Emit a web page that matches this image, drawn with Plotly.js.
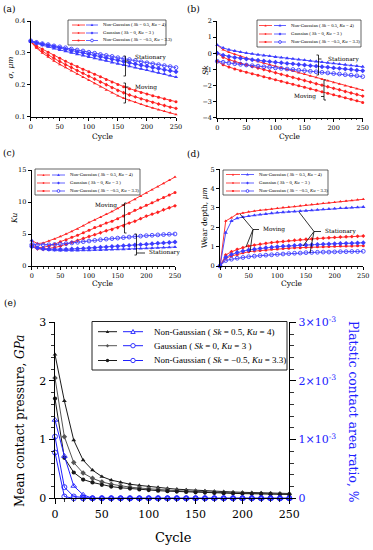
<!DOCTYPE html>
<html><head><meta charset="utf-8">
<script src="https://cdn.plot.ly/plotly-3.0.1.min.js"></script>
<style>html,body{margin:0;padding:0;background:#fff}#chart{width:373px;height:550px}</style>
</head><body><div id="chart"></div>
<script>
// ---------------- DATA ----------------
const cycles = [0,10,20,30,40,50,60,70,80,90,100,110,120,130,140,150,160,170,180,190,200,210,220,230,240,250];
const legendLabels = [
  'Non-Gaussian ( <i>Sk</i> = 0.5, <i>Ku</i> = 4)',
  'Gaussian ( <i>Sk</i> = 0, <i>Ku</i> = 3 )',
  'Non-Gaussian ( <i>Sk</i> = \u22120.5, <i>Ku</i> = 3.3)'
];
// (a) sigma, um
const aMovP = [0.335,0.315,0.300,0.287,0.275,0.264,0.254,0.244,0.234,0.224,0.214,0.204,0.194,0.184,0.175,0.166,0.158,0.151,0.145,0.139,0.133,0.127,0.122,0.117,0.112,0.107];
const aMovG = [0.335,0.318,0.305,0.293,0.283,0.273,0.263,0.254,0.245,0.236,0.227,0.218,0.209,0.200,0.191,0.182,0.175,0.168,0.162,0.156,0.150,0.145,0.140,0.135,0.130,0.126];
const aMovN = [0.335,0.322,0.312,0.302,0.292,0.283,0.274,0.265,0.257,0.249,0.241,0.233,0.225,0.217,0.209,0.201,0.194,0.188,0.182,0.176,0.171,0.166,0.161,0.156,0.151,0.147];
const aStaP = [0.335,0.329,0.324,0.319,0.314,0.309,0.305,0.300,0.296,0.292,0.287,0.283,0.279,0.275,0.270,0.266,0.262,0.258,0.254,0.250,0.246,0.242,0.238,0.234,0.229,0.224];
const aStaG = [0.337,0.331,0.327,0.323,0.319,0.315,0.311,0.307,0.303,0.300,0.296,0.292,0.288,0.284,0.280,0.277,0.273,0.269,0.265,0.261,0.258,0.254,0.251,0.247,0.244,0.241];
const aStaN = [0.338,0.333,0.329,0.326,0.322,0.319,0.316,0.312,0.309,0.306,0.302,0.299,0.295,0.292,0.289,0.285,0.282,0.279,0.276,0.272,0.269,0.266,0.263,0.260,0.257,0.254];
// (b) Sk
const bMovP = [0.5,0.22,0.06,-0.07,-0.19,-0.30,-0.41,-0.51,-0.61,-0.71,-0.81,-0.91,-1.01,-1.11,-1.21,-1.31,-1.41,-1.51,-1.61,-1.71,-1.81,-1.91,-2.01,-2.11,-2.20,-2.29];
const bMovG = [0,-0.25,-0.40,-0.52,-0.63,-0.72,-0.82,-0.92,-1.01,-1.11,-1.21,-1.31,-1.40,-1.50,-1.60,-1.69,-1.79,-1.89,-1.98,-2.08,-2.18,-2.27,-2.37,-2.47,-2.56,-2.66];
const bMovN = [-0.5,-0.72,-0.86,-0.98,-1.08,-1.18,-1.27,-1.37,-1.46,-1.55,-1.65,-1.74,-1.83,-1.93,-2.02,-2.11,-2.20,-2.30,-2.39,-2.48,-2.58,-2.67,-2.76,-2.86,-2.95,-3.05];
const bStaP = [0.5,0.33,0.22,0.14,0.07,0.01,-0.04,-0.09,-0.14,-0.18,-0.23,-0.27,-0.31,-0.35,-0.39,-0.43,-0.47,-0.51,-0.55,-0.59,-0.63,-0.67,-0.71,-0.75,-0.79,-0.84];
const bStaG = [0,-0.12,-0.20,-0.26,-0.31,-0.36,-0.40,-0.44,-0.48,-0.52,-0.56,-0.59,-0.63,-0.66,-0.70,-0.73,-0.77,-0.80,-0.84,-0.87,-0.91,-0.94,-0.98,-1.01,-1.05,-1.09];
const bStaN = [-0.5,-0.56,-0.61,-0.65,-0.69,-0.73,-0.77,-0.80,-0.84,-0.87,-0.91,-0.94,-0.98,-1.01,-1.05,-1.08,-1.12,-1.15,-1.19,-1.22,-1.26,-1.29,-1.33,-1.36,-1.40,-1.45];
// (c) Ku
const cMovP = [4.0,3.5,3.6,3.9,4.2,4.6,5.0,5.4,5.8,6.3,6.8,7.2,7.6,8.1,8.5,9.0,9.5,9.9,10.4,10.9,11.4,11.9,12.4,12.9,13.4,13.9];
const cMovG = [3.0,2.7,2.6,2.7,2.9,3.1,3.4,3.7,4.0,4.3,4.6,4.9,5.2,5.5,5.7,6.0,6.3,6.7,7.0,7.4,7.8,8.1,8.4,8.8,9.1,9.4];
const cMovN = [3.3,2.9,2.9,3.1,3.4,3.8,4.1,4.5,4.8,5.2,5.6,6.0,6.3,6.7,7.0,7.4,7.8,8.2,8.7,9.1,9.5,9.9,10.3,10.7,11.1,11.5];
const cStaP = [4.0,2.8,2.6,2.5,2.45,2.42,2.41,2.41,2.42,2.44,2.46,2.48,2.5,2.53,2.56,2.59,2.62,2.65,2.68,2.72,2.76,2.8,2.84,2.88,2.92,2.96];
const cStaG = [3.0,2.8,2.7,2.63,2.6,2.6,2.62,2.65,2.7,2.75,2.8,2.86,2.92,2.98,3.04,3.1,3.16,3.22,3.28,3.34,3.4,3.47,3.54,3.61,3.68,3.75];
const cStaN = [3.3,3.3,3.3,3.32,3.36,3.42,3.5,3.6,3.7,3.8,3.9,4.0,4.1,4.2,4.28,4.36,4.44,4.52,4.6,4.67,4.74,4.8,4.86,4.91,4.96,5.0];
// (d) wear depth, um
const dMovP = [0,2.33,2.5,2.69,2.74,2.8,2.84,2.88,2.91,2.95,2.98,3.02,3.05,3.08,3.12,3.15,3.18,3.21,3.24,3.27,3.3,3.33,3.36,3.39,3.42,3.45];
const dMovG = [0,0.57,0.74,0.86,0.95,1.03,1.08,1.13,1.17,1.21,1.24,1.27,1.3,1.33,1.36,1.38,1.4,1.42,1.44,1.46,1.48,1.5,1.51,1.52,1.54,1.55];
const dMovN = [0,0.4,0.52,0.6,0.68,0.74,0.77,0.8,0.83,0.86,0.88,0.9,0.92,0.94,0.95,0.97,0.98,0.99,1.0,1.01,1.02,1.03,1.03,1.04,1.05,1.05];
const dStaP = [0,1.72,2.33,2.47,2.53,2.58,2.62,2.66,2.69,2.73,2.76,2.78,2.8,2.82,2.84,2.86,2.88,2.9,2.93,2.95,2.97,2.99,3.0,3.02,3.03,3.05];
const dStaG = [0,0.45,0.6,0.7,0.77,0.83,0.87,0.91,0.94,0.97,1.0,1.02,1.04,1.06,1.08,1.09,1.1,1.11,1.13,1.14,1.15,1.16,1.17,1.18,1.19,1.2];
const dStaN = [0,0.28,0.35,0.4,0.44,0.48,0.51,0.54,0.56,0.58,0.6,0.62,0.64,0.66,0.67,0.69,0.7,0.71,0.72,0.72,0.73,0.74,0.74,0.75,0.75,0.76];
// (e) mean contact pressure (GPa) and plastic contact area ratio
const ePresP = [2.45,1.66,0.99,0.65,0.48,0.37,0.31,0.27,0.24,0.22,0.2,0.185,0.17,0.155,0.145,0.135,0.128,0.12,0.113,0.107,0.102,0.097,0.093,0.089,0.085,0.082];
const ePresG = [2.05,1.05,0.61,0.43,0.34,0.28,0.24,0.21,0.19,0.175,0.16,0.15,0.14,0.13,0.122,0.115,0.108,0.102,0.097,0.092,0.088,0.084,0.08,0.077,0.074,0.071];
const ePresN = [1.70,0.69,0.44,0.32,0.27,0.23,0.2,0.18,0.165,0.15,0.14,0.13,0.122,0.115,0.108,0.102,0.097,0.092,0.088,0.084,0.08,0.077,0.074,0.071,0.068,0.066];
const eAreaP = [0.001335,0.00072,0.00021,0.00006,0,0,0,0,0,0,0,0,0,0,0,0,0,0,0,0,0,0,0,0,0,0];
const eAreaG = [0.00105,0.00019,0.00003,0.00001,0,0,0,0,0,0,0,0,0,0,0,0,0,0,0,0,0,0,0,0,0,0];
const eAreaN = [0.00078,0.00003,0,0,0,0,0,0,0,0,0,0,0,0,0,0,0,0,0,0,0,0,0,0,0,0];
const rightTickVals = [0,0.001,0.002,0.003];
const rightTickText = ['0','1\u00d710<sup>-3</sup>','2\u00d710<sup>-3</sup>','3\u00d710<sup>-3</sup>'];

// ---------------- STYLE / LAYOUT ----------------
const W = 373, H = 550;
const F = 'DejaVu Serif';
const FL = 'Liberation Serif';
const RED = '#ff2020', BLUE = '#3c3cff', BLK = '#1a1a1a', GRY = '#555555', EBLUE = '#2020ff';
const px = x => x / W, py = y => 1 - y / H;

function tr(y, xa, ya, color, symbol, size, lw) {
  const open = symbol.endsWith('-open');
  return {type:'scatter', mode:'lines+markers', x: cycles, y: y, xaxis: xa, yaxis: ya,
    line:{color: color, width: lw},
    marker:{symbol: symbol, size: size, color: color, line:{color: color, width: open ? 0.9 : 0}},
    cliponaxis:false, showlegend:false, hoverinfo:'skip'};
}
const panels = [
  ['x','y',[aMovP,aMovG,aMovN],[aStaP,aStaG,aStaN]],
  ['x2','y2',[bMovP,bMovG,bMovN],[bStaP,bStaG,bStaN]],
  ['x3','y3',[cMovP,cMovG,cMovN],[cStaP,cStaG,cStaN]],
  ['x4','y4',[dMovP,dMovG,dMovN],[dStaP,dStaG,dStaN]]
];
const redSym = ['triangle-up','diamond','circle'];
const blueSym = ['triangle-up','diamond','circle-open'];
const data = [];
panels.forEach(p => {
  p[2].forEach((s,i) => data.push(tr(s, p[0], p[1], RED, redSym[i], 3, 0.9)));
  p[3].forEach((s,i) => data.push(tr(s, p[0], p[1], BLUE, blueSym[i], 3.8, 0.9)));
});
[ePresP, ePresG, ePresN].forEach((s,i) => data.push(tr(s,'x5','y5', i===1?GRY:BLK, ['triangle-up','diamond','circle'][i], 4.2, 1)));
[eAreaP, eAreaG, eAreaN].forEach((s,i) => data.push(tr(s,'x5','y6', EBLUE, ['triangle-up-open','circle-open','circle-open'][i], 5, 1)));

function ax(o) {
  return Object.assign({showline:true, linecolor:'#000', linewidth:1, ticks:'outside', ticklen:3, tickwidth:1,
    tickcolor:'#000', showgrid:false, zeroline:false, automargin:false, fixedrange:true,
    tickfont:{family:F, size:6.5, color:'#000'}}, o);
}
const xminor = {ticks:'outside', ticklen:1.5, dtick:10, tickcolor:'#000', tickwidth:0.8};
const layout = {
  width: W, height: H, margin:{l:0,r:0,t:0,b:0}, paper_bgcolor:'#fff', plot_bgcolor:'rgba(0,0,0,0)',
  showlegend:false,
  xaxis: ax({domain:[px(30.7),px(176)], anchor:'y', range:[0,250], dtick:50, minor:xminor}),
  yaxis: ax({domain:[py(116.7),py(21)], anchor:'x', range:[0.1,0.4], dtick:0.1, tickformat:'.1f'}),
  xaxis2: ax({domain:[px(217.3),px(362.7)], anchor:'y2', range:[0,250], dtick:50, minor:xminor}),
  yaxis2: ax({domain:[py(117.7),py(21)], anchor:'x2', range:[-4,2], dtick:1}),
  xaxis3: ax({domain:[px(31.7),px(175)], anchor:'y3', range:[0,250], dtick:50, minor:xminor}),
  yaxis3: ax({domain:[py(266),py(170)], anchor:'x3', range:[0,15], dtick:5}),
  xaxis4: ax({domain:[px(220),px(363.3)], anchor:'y4', range:[0,250], dtick:50, minor:xminor}),
  yaxis4: ax({domain:[py(266),py(169.3)], anchor:'x4', range:[0,5], dtick:1}),
  xaxis5: ax({domain:[px(55),px(289.3)], anchor:'y5', range:[0,250], dtick:50, ticklen:5,
    tickfont:{family:F, size:11, color:'#000'}, minor:{ticks:'outside', ticklen:2.5, dtick:10, tickcolor:'#000', tickwidth:0.8}}),
  yaxis5: ax({domain:[py(498.3),py(322.3)], anchor:'x5', range:[0,3], dtick:1, ticklen:5.5,
    tickfont:{family:F, size:11, color:'#000'}, minor:{ticks:'outside', ticklen:3, dtick:0.2, tickcolor:'#000', tickwidth:0.8}}),
  yaxis6: ax({overlaying:'y5', side:'right', anchor:'x5', range:[0,0.003], tickmode:'array', tickvals:rightTickVals,
    ticktext:rightTickText, ticklen:6, tickfont:{family:F, size:11, color:EBLUE},
    minor:{ticks:'outside', ticklen:3.5, dtick:0.0002, tick0:0, tickcolor:'#000', tickwidth:0.8}}),
  shapes: [], annotations: []
};
const S = layout.shapes, A = layout.annotations;
function txt(x, y, t, size, o) {
  A.push(Object.assign({xref:'paper', yref:'paper', x:px(x), y:py(y), text:t, showarrow:false,
    xanchor:'center', yanchor:'middle', font:{family:F, size:size, color:'#000'}}, o || {}));
}
function seg(x0,y0,x1,y1,color,w) {
  S.push({type:'line', xref:'paper', yref:'paper', x0:px(x0), y0:py(y0), x1:px(x1), y1:py(y1), line:{color:color||'#000', width:w||0.8}});
}
function pathPx(pts, color, w) {
  const d = pts.map(p => (p[0]==='M'?'M':'L') + px(p[1]).toFixed(5) + ',' + py(p[2]).toFixed(5)).join(' ');
  S.push({type:'path', xref:'paper', yref:'paper', path:d, line:{color:color||'#000', width:w||0.8}});
}
function bracket(x, y0, y1, yt, dir) {
  pathPx([['M',x-dir*2,y0],['L',x,y0],['L',x,y1],['L',x-dir*2,y1]]);
  pathPx([['M',x,yt],['L',x+dir*3,yt]]);
}
function mk(x, y, sym, color, r) {
  const open = sym.endsWith('-open'); const name = sym.replace('-open','');
  const b = {xref:'paper', yref:'paper', xsizemode:'pixel', ysizemode:'pixel', xanchor:px(x), yanchor:py(y),
    line:{color:color, width: open ? 0.9 : 0}, fillcolor: open ? '#ffffff' : color};
  if (name === 'circle') return Object.assign(b, {type:'circle', x0:-r, x1:r, y0:-r, y1:r});
  if (name === 'triangle-up') return Object.assign(b, {type:'path', path:`M${-r},${-0.8*r}L${r},${-0.8*r}L0,${r}Z`});
  return Object.assign(b, {type:'path', path:`M0,${r}L${r},0L0,${-r}L${-r},0Z`});
}
function legendBlock(c) {
  S.push({type:'rect', xref:'paper', yref:'paper', x0:px(c.box[0]), y0:py(c.box[1]), x1:px(c.box[2]), y1:py(c.box[3]),
    line:{color:'#222', width:c.bw||0.7}, fillcolor:'rgba(255,255,255,0)'});
  c.rows.forEach((y,i) => {
    seg(c.s1[0], y, c.s1[1], y, c.col1[i], c.lw); S.push(mk((c.s1[0]+c.s1[1])/2, y, c.sym1[i], c.col1[i], c.r1));
    seg(c.s2[0], y, c.s2[1], y, c.col2, c.lw); S.push(mk((c.s2[0]+c.s2[1])/2, y, c.sym2[i], c.col2, c.r2));
    txt(c.tx, y, legendLabels[i], c.fs, {xanchor:'left', font:{family:FL, size:c.fs, color:'#000'}});
  });
}
const R3 = [RED,RED,RED];
legendBlock({box:[68,20,166,45], rows:[25,33,40.5], s1:[72,85], s2:[86,98], tx:101, fs:4.7, col1:R3, col2:BLUE, sym1:redSym, sym2:blueSym, r1:1.1, r2:1.4, lw:0.8});
legendBlock({box:[257,20,361,47], rows:[25.5,34,42], s1:[259,272], s2:[274,286], tx:289, fs:4.7, col1:R3, col2:BLUE, sym1:redSym, sym2:blueSym, r1:1.1, r2:1.4, lw:0.8});
legendBlock({box:[35,169,140,195], rows:[175,183,191], s1:[37,50], s2:[52,65], tx:68, fs:4.7, col1:R3, col2:BLUE, sym1:redSym, sym2:blueSym, r1:1.1, r2:1.4, lw:0.8});
legendBlock({box:[223,170,328,195], rows:[174.5,183,191], s1:[226,240], s2:[241,254], tx:257, fs:4.7, col1:R3, col2:BLUE, sym1:redSym, sym2:blueSym, r1:1.1, r2:1.4, lw:0.8});
legendBlock({box:[92,321.5,287,370], rows:[331.7,345.7,360.5], s1:[98,117], s2:[123,143], tx:152, fs:9, col1:[BLK,GRY,BLK], col2:EBLUE,
  sym1:['triangle-up','diamond','circle'], sym2:['triangle-up-open','circle-open','circle-open'], r1:1.7, r2:2.2, lw:1, bw:1});

// panel labels
txt(8.5, 9, '(a)', 9); txt(193, 9, '(b)', 9); txt(8.5, 153, '(c)', 9); txt(193.5, 154, '(d)', 9); txt(10, 303, '(e)', 9);
// axis titles
txt(103, 137, 'Cycle', 7.5); txt(290, 137, 'Cycle', 7.5); txt(103, 283.5, 'Cycle', 7.5); txt(292, 283.5, 'Cycle', 7.5);
txt(173, 537, 'Cycle', 13);
txt(9.5, 68, '<i>σ</i>, <i>μm</i>', 7.5, {textangle:-90});
txt(206, 70, '<i>Sk</i>', 7.5, {textangle:-90});
txt(14, 218, '<i>Ku</i>', 7.5, {textangle:-90});
txt(204, 218, 'Wear depth, <i>μm</i>', 7.5, {textangle:-90});
txt(20, 421, 'Mean contact pressure, <i>GPa</i>', 12, {textangle:-90});
txt(353, 411, 'Platstic contact area ratio, %', 12.3, {textangle:90, font:{family:F, size:12.3, color:EBLUE}});
// brackets and notes
const nf = 5.8;
bracket(125.5, 56, 76, 61, 1); txt(133, 57.5, 'Stationary', nf, {xanchor:'left'});
bracket(125.5, 83, 103, 87, 1); txt(133, 87, 'Moving', nf, {xanchor:'left'});
bracket(318.5, 55, 75, 59, 1); txt(326, 59, 'Stationary', nf, {xanchor:'left'});
bracket(324, 80, 100, 96.5, -1); txt(318, 96, 'Moving', nf, {xanchor:'right'});
bracket(124.5, 203, 233, 205, -1); txt(119, 205, 'Moving', nf, {xanchor:'right'});
bracket(136.5, 234, 255, 253, 1); seg(139.5, 253, 145, 253); txt(147, 253, 'Stationary', nf, {xanchor:'left'});
// (d) connectors
seg(253, 229.5, 240, 214); seg(253, 229.5, 246, 247); seg(253, 229.5, 250, 252); seg(253, 229.5, 259, 229.5);
txt(261, 229.5, 'Moving', nf, {xanchor:'left'});
seg(314, 231.5, 299, 212); seg(314, 231.5, 303, 246); seg(314, 231.5, 310, 253); seg(314, 231.5, 321, 231.5);
txt(323, 231.5, 'Stationary', nf, {xanchor:'left'});

Plotly.newPlot('chart', data, layout, {staticPlot:true, displayModeBar:false});
</script></body></html>
